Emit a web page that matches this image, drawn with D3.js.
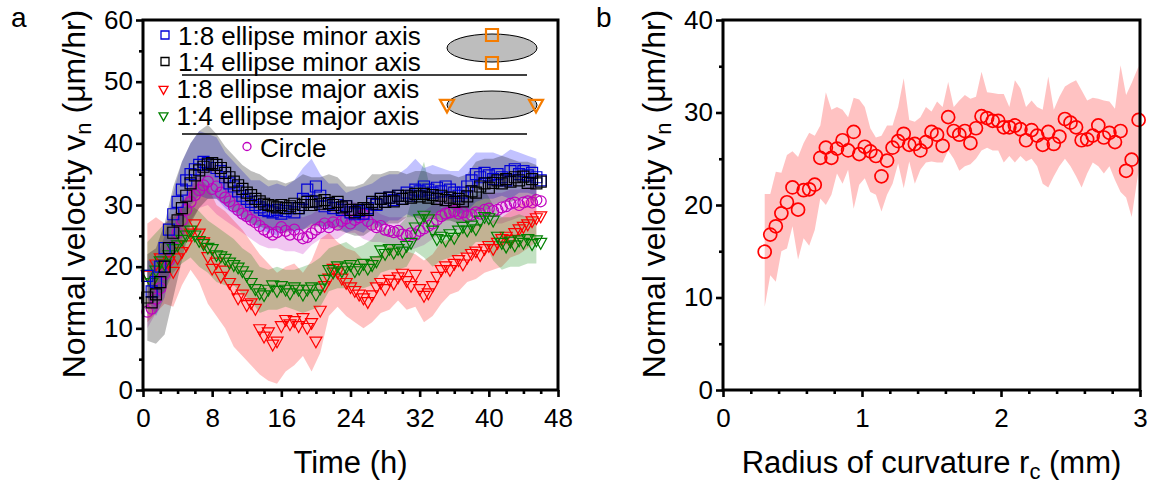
<!DOCTYPE html>
<html>
<head>
<meta charset="utf-8">
<script src="https://cdn.jsdelivr.net/npm/d3@7"></script>
<style>
  body { margin: 0; background: #fff; }
  svg { display: block; font-family: "Liberation Sans", Arial, sans-serif; }
</style>
</head>
<body>
<svg id="chart" width="1160" height="484"></svg>
<script>
// ---- panel a data (time in h, velocity in um/hr) ----
const timeH = [0.5,1,1.5,2,2.5,3,3.5,4,4.5,5,5.5,6,6.5,7,7.5,8,8.5,9,9.5,10,
  10.5,11,11.5,12,12.5,13,13.5,14,14.5,15,15.5,16,16.5,17,17.5,18,18.5,19,19.5,20,
  20.5,21,21.5,22,22.5,23,23.5,24,24.5,25,25.5,26,26.5,27,27.5,28,28.5,29,29.5,30,
  30.5,31,31.5,32,32.5,33,33.5,34,34.5,35,35.5,36,36.5,37,37.5,38,38.5,39,39.5,40,
  40.5,41,41.5,42,42.5,43,43.5,44,44.5,45,45.5,46];

const minor18 = [18.5,16,17.5,20,23,26,28.5,30.5,32.5,34,
  35,35.8,36.5,37,36.8,36.5,36,35.5,34.5,33.5,
  33,32.2,31.5,31,30.5,30,29.6,29.2,29,28.8,
  29.2,28.6,29,29.5,28.8,29.5,31,32.5,30.5,33,
  31.5,29.8,30.2,29.5,30,29.2,29.8,28.8,28.5,29,
  28.6,29.5,30.2,30,31,30.5,31.2,30.8,31.5,31,
  32,31.5,32.5,32.2,33,32.5,32,32.8,32.2,33,
  32.5,32,31.5,32,33,34,35,34.5,35.2,34.8,
  34.2,35,34.5,34,35.5,35.8,35,35.5,34.8,35.2,
  34.5,34];
const minor14 = [15,14.2,15.5,17.5,20,23,25.5,27.5,29.5,31.5,
  33.5,34.8,35.6,36.2,36.6,36.8,36.5,36,35.2,34.5,
  33.8,33.2,32.6,32,31.6,31,30.6,30.2,30,29.8,
  29.6,30,29.5,29.8,30.2,29.5,30,30.5,30,30.6,
  30.2,30.8,30.3,30,30.5,29.6,29.8,29.2,28.8,29.2,
  29.5,29.2,30.5,30.2,31,30.5,31.2,30.6,31.5,31,
  31.5,31.2,31.8,31.4,31.8,31.2,31.6,31,31.5,30.8,
  31.2,30.5,31,30.6,31.4,32.2,32,33,33.5,32.8,
  33.6,34,33.5,34.2,33.8,34.5,34,34.6,33.6,34.2,
  33.5,33.8];
const major18 = [18.7,17.5,20.5,21.5,20.5,21,19.3,21.5,22.5,23.6,
  25.5,27,25.5,24.1,21.7,19.8,20.8,18.5,19.5,17.5,
  16.5,15,15.6,13.9,14.2,13.3,10,8.8,9.5,7.5,
  8,10.5,11.5,10.8,11.3,10.5,11.8,10.2,11,8,
  13,17,18.2,19.8,19.2,18.2,17.5,16.8,16.2,15.6,
  15,14.4,15.5,16.8,17.5,16.5,18,17.4,18.4,19,
  17.8,17,18.8,16.5,15.4,15.8,17,18.5,19.6,20.2,
  19.6,20.6,21.2,20.5,21.6,22.2,22.6,22,23,23.5,
  23,24,24.6,25,24.5,25.6,26.2,26.6,27,27.5,
  28,28.3];
const major14 = [18.8,17.5,19.5,21,20.5,22,23,23.6,24.5,25.2,
  26,25.2,24.3,23.8,23.2,23,22,21.8,21.4,20.8,
  20.4,20,19.4,18.7,17.5,16.5,15.8,15.5,16.4,17.1,
  16.2,17,16.4,15.8,16.8,16.4,15.6,16.4,16.8,15.6,
  16.6,18,19.6,19.2,20.2,19.4,20,20.4,19.4,19.8,
  20.6,19.8,20.4,21,22.8,22.2,23,22.4,23,22.6,
  23.5,24,26.5,27.8,28.4,27.8,26,24.6,25,24.4,
  25.4,24.8,26,26.6,26,26.8,26.2,27.6,28.2,28,
  27.6,25,24,23.4,24.2,23.6,24.4,24,24.6,23.8,
  24.4,24];
const circle = [12.7,13.2,14.8,16.5,18.8,21,23.2,25.5,27.5,29.2,
  30.5,31.6,32.4,33.2,33.8,32.6,33,32,31.2,30.6,
  29.8,29.2,28.6,28.2,27.6,27.2,26.6,26,25.6,25.2,
  25.6,26.4,25.8,25.2,26,25.2,24.6,24.8,25.4,26,
  26.4,27,26.4,27.2,26.8,27.4,27.8,27,27.6,28,
  28.4,27.4,26.8,26.4,26.6,26,25.8,25.6,25.8,25.2,
  25,25.4,25.2,25.8,26.2,26.6,27,27.6,28.2,28.6,
  28.8,29,28.6,28.8,28.2,28.4,28.8,28.6,29.2,29.4,
  29,29.2,29.6,29.8,30.2,30.4,30,30.4,30.6,30.4,
  30.8,30.6];

// shaded bands, one value per hour: t = 0.5, 1.5, ... 45.5
const bandT = [0.5,1.5,2.5,3.5,4.5,5.5,6.5,7.5,8.5,9.5,10.5,11.5,12.5,13.5,14.5,15.5,
  16.5,17.5,18.5,19.5,20.5,21.5,22.5,23.5,24.5,25.5,26.5,27.5,28.5,29.5,30.5,31.5,
  32.5,33.5,34.5,35.5,36.5,37.5,38.5,39.5,40.5,41.5,42.5,43.5,44.5,45.5];
const minor18Lo = [15,12,15,22,27,30,31.5,31,31,29.5, 28.5,27.5,27,26,25.5,25,26,25.5,26,27,
  26.5,26,26.5,25.5,26,25.5,27,26.5,27.5,27.5, 28.5,28,29,28.5,29,29.5,28.5,29,30.5,31,
  31,31.5,31,32,32,31.5];
const minor18Hi = [21,21,25,32,37,40,42,41.5,41,38.5, 37,35.5,34,34,33,33.5,33,34,36,37.5,
  35,33.5,33.5,32,32.5,33,33.5,34.5,35,35, 36,37.5,36,36.5,36,35.5,35.5,37,38.5,38.5,
  38.5,38,39,38.5,38,37.5];
const minor14Lo = [8,7.5,9,15,21,27,29.5,31,31,30, 29,28,27,26.5,26,26,25.5,26,26,26.5,
  26.5,26.5,26,25.5,25,25,26,26.5,27,27, 28,28,27.5,28,27.5,27.5,27,27.5,29,29,
  30,30.5,30.5,31,31,30.5];
const minor14Hi = [22,23,27,33,37,40,42,43,41.5,39.5, 38,36.5,35.5,35,34,34,33.5,34,35,34.5,
  34.5,35,34.5,33,33,33.5,35,35,35.5,35.5, 35,35.5,35.5,35,35,35,34.5,35,37,37.5,
  37.5,38,37.5,37,37,36.5];
const major18Lo = [11,12.5,14,13.5,17,19.5,17.5,14,12,10, 7,5.5,4,2.5,1.5,1,3,4,5.5,3,
  6,12,13.5,12,11,10,11,12.5,13,14.5, 13,13.5,11,12,14,15.5,16,17.5,18,19,
  19.5,20,21.5,22,23,24];
const major18Hi = [27,28,27,28.5,30,33,34.5,33,30,29, 27.5,26,24,22,20.5,19,20,20.5,19,21,
  24.5,25.5,24,23,22.5,21,21.5,22,23.5,23, 22.5,22,21,22,24,24.5,25.5,26,27,27,
  27.5,28,29,30,31,32];
const major14Lo = [13.5,14.5,16,19,20.5,21.5,20,19,17.5,17, 17,15.5,14.5,12.5,13,13,13.5,13,12.5,13,
  13.5,16,16.5,16.5,16.5,16.5,17,19,19.5,19.5, 20,22.5,21.5,20,21,21.5,22,22.5,24,24,
  21,19.5,20,20,20.5,20.5];
const major14Hi = [24,25.5,27,28,29.5,30,29,27.5,26.5,25.5, 24.5,23,22,20,19.5,20,19.5,19.5,20,20.5,
  21.5,23,23.5,24,23,23.5,24.5,26.5,26,26.5, 28,33,37,31,29.5,30,30.5,31,32,32.5,
  30,28,28,28.5,28,28];
const circleLo = [10,12.5,16.5,21,24.5,27.5,29.5,30,28.5,27.5, 26.5,25.5,24.5,23.5,23,23,22.5,22.5,22,23.5,
  24.5,24.5,24.5,25.5,25.5,24.5,24,24,23.5,23, 22.5,23,23.5,24.5,25.5,26,26,26,26.5,27,
  27,27,27.5,28,28,28.5];
const circleHi = [15.5,18,21.5,26,30.5,33.5,35.5,36.5,36,34, 32.5,31.5,30,29,28,28.5,28,28.5,28,28.5,
  29.5,29,30,30.5,30.5,30,29.5,28.5,28,28, 28,28,29,30,31.5,31.5,31.5,31,31.5,32,
  32,32,32.5,32.5,33,33];

const legendLabels = ["1:8 ellipse minor axis", "1:4 ellipse minor axis",
  "1:8 ellipse major axis", "1:4 ellipse major axis", "Circle"];

// ---- panel b data (radius in mm) ----
const radius = [0.30,0.34,0.38,0.42,0.46,0.50,0.54,0.58,0.62,0.66,
  0.70,0.74,0.78,0.82,0.86,0.90,0.94,0.98,1.02,1.06,
  1.10,1.14,1.18,1.22,1.26,1.30,1.34,1.38,1.42,1.46,
  1.50,1.54,1.58,1.62,1.66,1.70,1.74,1.78,1.82,1.86,
  1.90,1.94,1.98,2.02,2.06,2.10,2.14,2.18,2.22,2.26,
  2.30,2.34,2.38,2.42,2.46,2.50,2.54,2.58,2.62,2.66,
  2.70,2.74,2.78,2.82,2.86,2.90,2.94,2.99];
const velB = [14.95,16.8,17.7,19.1,20.3,21.9,19.5,21.6,21.7,22.2,
  25.1,26.2,25.1,26.1,27.0,25.9,27.9,25.5,26.3,25.8,
  25.3,23.1,24.8,26.2,26.9,27.7,26.5,26.6,25.9,26.8,
  27.9,27.6,26.4,29.5,28.0,27.6,28.0,26.7,28.3,29.6,
  29.4,29.1,29.1,28.4,28.4,28.6,28.2,27.0,28.1,27.5,
  26.5,27.9,26.6,27.4,29.3,28.9,28.4,27.0,27.1,27.5,
  28.6,27.3,27.8,26.8,28.0,23.7,24.9,29.2];
const velBHi = [21.2,21.2,23.6,23.5,25.4,25.8,25.2,26.7,27.8,27.5,
  28.6,32.2,30.3,30.6,30.3,29.5,31.6,31.4,30.6,28.3,
  27.3,27.5,28.6,28.6,30.6,33.7,29.2,29.0,29.5,30.6,
  30.1,31.2,30.6,33.3,30.6,31.3,31.9,31.5,31.7,34.4,
  32.2,32.1,32.0,32.0,30.6,33.5,32.6,30.6,31.3,30.6,
  30.3,33.9,30.3,31.7,32.8,33.2,33.5,32.4,31.3,31.6,
  31.5,31.3,31.2,30.4,35.1,31.9,33.2,35.0];
const velBLo = [9.0,12.4,11.7,15.0,15.3,17.7,14.1,16.4,15.6,17.3,
  20.7,20.0,21.1,23.4,22.3,23.8,19.6,22.2,22.9,21.4,
  21.1,19.3,21.1,22.3,24.5,21.8,24.7,22.3,23.8,24.6,
  24.7,24.6,24.6,25.9,25.0,23.7,24.2,24.4,25.0,25.9,
  26.2,25.9,25.9,24.6,25.3,24.6,25.3,24.7,25.0,24.2,
  22.3,21.9,23.1,24.2,25.0,24.2,23.1,21.9,23.4,24.6,
  24.2,23.4,24.2,22.7,21.4,20.8,18.7,23.7];

const svg = d3.select("#chart");
const FS_TICK = 26, FS_TITLE = 31;

// ---------- helpers ----------
function drawAxes(g, x, y, w, h, xMajor, xMinor, yMajor, yMinor) {
  g.append("g").attr("transform", `translate(0,${h})`)
    .call(d3.axisBottom(x).tickValues(xMajor).tickSize(7).tickPadding(12).tickFormat(d3.format("d")));
  g.append("g").attr("transform", `translate(0,${h})`)
    .call(d3.axisBottom(x).tickValues(xMinor).tickSize(4).tickFormat(""));
  g.append("g")
    .call(d3.axisLeft(y).tickValues(yMajor).tickSize(7).tickPadding(3).tickFormat(d3.format("d")));
  g.append("g")
    .call(d3.axisLeft(y).tickValues(yMinor).tickSize(4).tickFormat(""));
  g.selectAll(".domain").remove();
  g.selectAll(".tick line").attr("stroke", "#000").attr("stroke-width", 2.6);
  g.selectAll(".tick text").attr("fill", "#000").style("font-size", FS_TICK + "px")
    .style("font-family", "'Liberation Sans', Arial, sans-serif");
  g.append("rect").attr("x", 0).attr("y", 0).attr("width", w).attr("height", h)
    .attr("fill", "none").attr("stroke", "#000").attr("stroke-width", 3);
}

function yTitle(cx, cy) {
  const t = svg.append("text").attr("transform", `translate(${cx},${cy}) rotate(-90)`)
    .attr("text-anchor", "middle").style("font-size", "32px");
  t.append("tspan").text("Normal velocity v");
  t.append("tspan").attr("dy", 6).style("font-size", "22px").text("n");
  t.append("tspan").attr("dy", -6).text(" (\u03bcm/hr)");
}

function downTri(s) {
  const h = s * 0.9;
  return `M${-s / 2},${-h / 3}L${s / 2},${-h / 3}L0,${2 * h / 3}Z`;
}
function squarePath(s) {
  return `M${-s / 2},${-s / 2}h${s}v${s}h${-s}Z`;
}

// ---------- panel a ----------
const A = { left: 143, top: 20, w: 415, h: 370 };
const ga = svg.append("g").attr("transform", `translate(${A.left},${A.top})`);
const xA = d3.scaleLinear().domain([0, 48]).range([0, A.w]);
const yA = d3.scaleLinear().domain([0, 60]).range([A.h, 0]);

ga.append("clipPath").attr("id", "clipA").append("rect")
  .attr("width", A.w).attr("height", A.h);
const plotA = ga.append("g").attr("clip-path", "url(#clipA)");

const seriesA = [
  { vals: circle, lo: circleLo, hi: circleHi, color: "#c000c0", band: "#c000c0", op: 0.22, shape: "circle" },
  { vals: major18, lo: major18Lo, hi: major18Hi, color: "#ff0000", band: "#ff0000", op: 0.24, shape: "tri" },
  { vals: major14, lo: major14Lo, hi: major14Hi, color: "#008000", band: "#008000", op: 0.24, shape: "tri" },
  { vals: minor18, lo: minor18Lo, hi: minor18Hi, color: "#0000d8", band: "#0000ff", op: 0.24, shape: "sq" },
  { vals: minor14, lo: minor14Lo, hi: minor14Hi, color: "#000000", band: "#000000", op: 0.26, shape: "sq" }
];

const area = d3.area().x(d => xA(d.t)).y0(d => yA(d.lo)).y1(d => yA(d.hi));

seriesA.forEach(s => {
  const band = bandT.map((t, k) => ({ t, lo: s.lo[k], hi: s.hi[k] }));
  plotA.append("path").datum(band).attr("d", area)
    .attr("fill", s.band).attr("fill-opacity", s.op);
});

seriesA.forEach(s => {
  const pts = timeH.map((t, i) => ({ t, v: s.vals[i] }));
  const sel = ga.append("g").selectAll("path").data(pts).join("path")
    .attr("transform", d => `translate(${xA(d.t)},${yA(d.v)})`)
    .attr("fill", "none").attr("stroke", s.color).attr("stroke-width", 1.2);
  if (s.shape === "circle") sel.attr("d", d3.symbol(d3.symbolCircle, Math.PI * 30));
  else if (s.shape === "tri") sel.attr("d", downTri(12));
  else sel.attr("d", squarePath(11));
});

drawAxes(ga, xA, yA, A.w, A.h, [0, 8, 16, 24, 32, 40, 48],
  d3.range(2, 48, 2).filter(v => v % 8 !== 0),
  [0, 10, 20, 30, 40, 50, 60], [5, 15, 25, 35, 45, 55]);

// legend
const leg = svg.append("g");
const legRows = [
  { x: 165, y: 35, base: 45, color: "#0000d8", shape: "sq" },
  { x: 165, y: 61.5, base: 71, color: "#000000", shape: "sq" },
  { x: 163.5, y: 89, base: 98, color: "#ff0000", shape: "tri" },
  { x: 163.5, y: 115.5, base: 125, color: "#008000", shape: "tri" },
  { x: 247, y: 146.5, base: 157, color: "#c000c0", shape: "circle" }
];
legRows.forEach((r, i) => {
  const p = leg.append("path").attr("transform", `translate(${r.x},${r.y})`)
    .attr("fill", "none").attr("stroke", r.color).attr("stroke-width", 1.3);
  if (r.shape === "sq") p.attr("d", squarePath(8));
  else if (r.shape === "tri") p.attr("d", downTri(9));
  else p.attr("d", d3.symbol(d3.symbolCircle, Math.PI * 16));
  leg.append("text").attr("x", r.x + 13).attr("y", r.base)
    .style("font-size", "26px").text(legendLabels[i]);
});
[75, 134].forEach(yy => leg.append("line").attr("x1", 182).attr("x2", 527)
  .attr("y1", yy).attr("y2", yy).attr("stroke", "#000").attr("stroke-width", 1.3));

// ellipse icons
const orange = "#f57c00";
[{ cy: 48, marks: [[492, 35, "sq"], [492, 63, "sq"]] },
 { cy: 105, marks: [[447, 104, "tri"], [536, 104, "tri"]] }].forEach(e => {
  leg.append("ellipse").attr("cx", 492).attr("cy", e.cy).attr("rx", 45).attr("ry", 14)
    .attr("fill", "#bdbdbd").attr("stroke", "#000").attr("stroke-width", 1);
  e.marks.forEach(m => leg.append("path").attr("transform", `translate(${m[0]},${m[1]})`)
    .attr("d", m[2] === "sq" ? squarePath(12) : downTri(14))
    .attr("fill", "none").attr("stroke", orange).attr("stroke-width", 2.2));
});

yTitle(85, 194);
svg.append("text").attr("x", A.left + A.w / 2).attr("y", 473).attr("text-anchor", "middle")
  .style("font-size", FS_TITLE + "px").text("Time (h)");
svg.append("text").attr("x", 11).attr("y", 27).style("font-size", "28px").text("a");

// ---------- panel b ----------
const B = { left: 723, top: 20, w: 417, h: 370 };
const gb = svg.append("g").attr("transform", `translate(${B.left},${B.top})`);
const xB = d3.scaleLinear().domain([0, 3]).range([0, B.w]);
const yB = d3.scaleLinear().domain([0, 40]).range([B.h, 0]);

const ptsB = radius.map((r, i) => ({ r, v: velB[i], lo: velBLo[i], hi: velBHi[i] }));
gb.append("path").datum(ptsB)
  .attr("d", d3.area().x(d => xB(d.r)).y0(d => yB(d.lo)).y1(d => yB(d.hi)))
  .attr("fill", "#ff0000").attr("fill-opacity", 0.24);
gb.append("g").selectAll("circle").data(ptsB).join("circle")
  .attr("cx", d => xB(d.r)).attr("cy", d => yB(d.v)).attr("r", 6.5)
  .attr("fill", "none").attr("stroke", "#ff0000").attr("stroke-width", 1.7);

drawAxes(gb, xB, yB, B.w, B.h, [0, 1, 2, 3],
  d3.range(0.2, 3, 0.2).filter(v => Math.abs(v - Math.round(v)) > 0.01),
  [0, 10, 20, 30, 40], [5, 15, 25, 35]);

yTitle(665, 194);
const xt = svg.append("text").attr("x", B.left + B.w / 2).attr("y", 473)
  .attr("text-anchor", "middle").style("font-size", FS_TITLE + "px");
xt.append("tspan").text("Radius of curvature r");
xt.append("tspan").attr("dy", 6).style("font-size", "22px").text("c");
xt.append("tspan").attr("dy", -6).text(" (mm)");
svg.append("text").attr("x", 596).attr("y", 27).style("font-size", "28px").text("b");
</script>
</body>
</html>
